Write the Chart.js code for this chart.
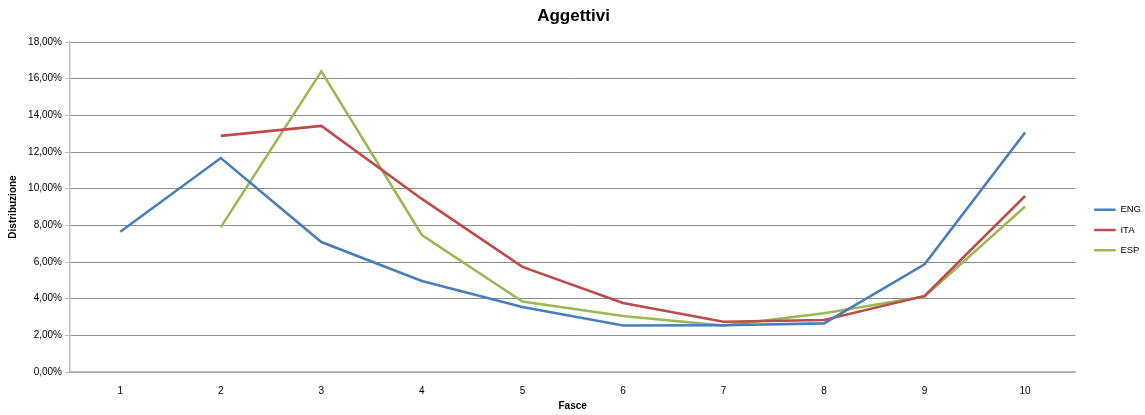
<!DOCTYPE html>
<html>
<head>
<meta charset="utf-8">
<script src="https://cdn.jsdelivr.net/npm/chart.js@4/dist/chart.umd.min.js"></script>
<style>
  html, body { margin: 0; padding: 0; background: #fff; }
  #wrap { width: 1145px; height: 415px; position: relative; }
</style>
</head>
<body>
<div id="wrap"><canvas id="c" width="1145" height="415"></canvas></div>
<script>
// Fasce (bands) on the x axis
const fasce = ['1', '2', '3', '4', '5', '6', '7', '8', '9', '10'];

// Share of adjectives per band, in percent
const eng = [7.65, 11.67, 7.09, 4.96, 3.55, 2.54, 2.55, 2.65, 5.87, 13.06];
const ita = [null, 12.88, 13.42, 9.44, 5.73, 3.76, 2.74, 2.84, 4.15, 9.60];
const esp = [null, 7.90, 16.40, 7.47, 3.84, 3.05, 2.53, 3.20, 4.11, 9.03];

const seriesNames = ['ENG', 'ITA', 'ESP'];
const seriesColors = ['#4a7ebb', '#be4b48', '#98b954'];

const fmtPct = v => v.toFixed(2).replace('.', ',') + '%';
const family = '"Liberation Sans", Arial, sans-serif';
const baseFont = { family: family, size: 10 };

// Nudges the legend column a little lower and to the right of its default slot
const legendNudge = {
  id: 'legendNudge',
  afterLayout(chart) {
    const l = chart.legend;
    if (!l) return;
    l.left += 8; l.right += 8;
    l.top += 22.5; l.bottom += 22.5;
  }
};

new Chart(document.getElementById('c'), {
  type: 'line',
  data: {
    labels: fasce,
    datasets: [eng, ita, esp].map((d, i) => ({
      label: seriesNames[i],
      data: d,
      borderColor: seriesColors[i],
      backgroundColor: seriesColors[i],
      borderWidth: 2.6,
      pointRadius: 0,
      pointHoverRadius: 0,
      tension: 0,
      spanGaps: false
    }))
  },
  plugins: [legendNudge],
  options: {
    responsive: false,
    animation: false,
    layout: { padding: { left: 4, right: 2, top: 0, bottom: 0 } },
    plugins: {
      title: {
        display: true,
        text: 'Aggettivi',
        color: '#000',
        font: { family: family, size: 17, weight: 'bold' },
        padding: { top: 6, bottom: 15.6 }
      },
      legend: {
        position: 'right',
        align: 'center',
        maxWidth: 70,
        labels: {
          color: '#000',
          font: { family: family, size: 9.5 },
          boxWidth: 21.5,
          boxHeight: 0,
          padding: 10.8
        }
      },
      tooltip: { enabled: false }
    },
    scales: {
      x: {
        offset: true,
        afterFit: s => { s.height = 43; },
        grid: { display: false, drawTicks: false },
        border: { display: true, color: '#bdbdbd', width: 1.5 },
        ticks: { color: '#000', font: baseFont, padding: 13, maxRotation: 0 },
        title: {
          display: true,
          text: 'Fasce',
          color: '#000',
          font: { family: family, size: 10, weight: 'bold' },
          padding: { top: 0, bottom: 3 }
        }
      },
      y: {
        min: 0,
        max: 18,
        afterFit: s => { s.width = 66; },
        ticks: {
          stepSize: 2,
          color: '#000',
          font: baseFont,
          padding: 3,
          callback: v => fmtPct(v)
        },
        grid: {
          color: '#8c8c8c',
          lineWidth: 1,
          tickLength: 5,
          tickColor: '#bdbdbd'
        },
        border: { display: true, color: '#bdbdbd', width: 1.5 },
        title: {
          display: true,
          text: 'Distribuzione',
          color: '#000',
          font: { family: family, size: 10, weight: 'bold' },
          padding: { top: 3, bottom: 0 }
        }
      }
    }
  }
});
</script>
</body>
</html>
